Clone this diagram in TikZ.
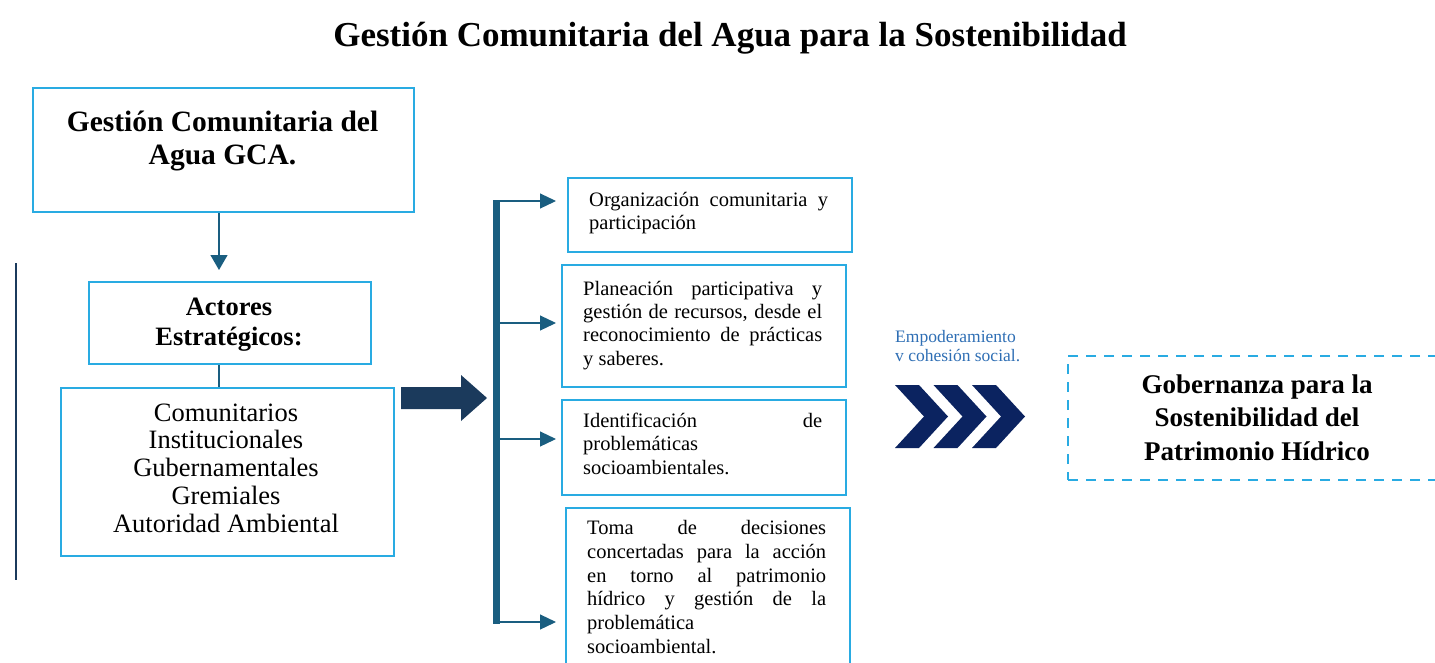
\documentclass[tikz,border=0pt]{standalone}
\usepackage{fontspec}
\setmainfont{Liberation Serif}
\usetikzlibrary{arrows.meta}
\definecolor{lblue}{RGB}{41,171,226}
\definecolor{tealc}{RGB}{26,94,128}
\definecolor{navyc}{RGB}{27,58,92}
\definecolor{chevc}{RGB}{11,35,96}
\definecolor{lbltext}{RGB}{46,110,180}
\newcommand{\jline}[1]{\makebox[239pt][s]{#1}}
\begin{document}
\begin{tikzpicture}[x=1pt,y=-1pt,
  box/.style={draw=lblue,line width=2pt,inner sep=0pt,anchor=north west},
  dbox/.style={draw=lblue,line width=2pt,inner sep=0pt,anchor=north west,dash pattern=on 10pt off 8pt},
  bigtxt/.style={font=\bfseries\fontsize{29.5}{33}\selectfont,align=center,inner sep=0pt},
  midtxt/.style={font=\bfseries\fontsize{26.5}{30}\selectfont,align=center,inner sep=0pt},
  listtxt/.style={font=\fontsize{26.5}{27.8}\selectfont,align=center,inner sep=0pt},
  smalltxt/.style={font=\fontsize{20.5}{23.2}\selectfont,align=left,inner sep=0pt,anchor=north west},
  conn/.style={draw=tealc,line width=1.2pt},
  branch/.style={draw=tealc,line width=1.2pt,-{Triangle[length=16pt,width=15pt]}},
]
\useasboundingbox (0,0) rectangle (1435,662);

% title
\node[font=\bfseries\fontsize{35}{40}\selectfont,inner sep=0pt] (title) at (730,38) {Gestión Comunitaria del Agua para la Sostenibilidad};

% left column
\node[box,minimum width=381pt,minimum height=124pt] (gca) at (32,87) {};
\node[bigtxt] (gcat) at (222.5,141.5) {Gestión Comunitaria del\\Agua GCA.};
\node[box,minimum width=282pt,minimum height=82pt] (act) at (88,281) {};
\node[midtxt] (actt) at (229,325) {Actores\\Estratégicos:};
\node[box,minimum width=333pt,minimum height=168pt] (com) at (60,387) {};
\node[listtxt] (comt) at (226,468) {Comunitarios\\Institucionales\\Gubernamentales\\Gremiales\\Autoridad Ambiental};

\draw[conn,-{Triangle[length=15pt,width=17pt]}] (gca.south -| 219,0) -- (219,270);
\draw[conn] (act.south -| 219,0) -- (com.north -| 219,0);
\draw[draw=navyc,line width=1.2pt] (16,263) coordinate (l1) -- (16,580) coordinate (l2);

% block arrow
\fill[navyc] (401,387) -- (461,387) -- (461,375) -- (487,398) -- (461,421) -- (461,409) -- (401,409) -- cycle;

% bar
\fill[tealc] (493,200) rectangle (500,624);

% right boxes
\node[box,minimum width=284pt,minimum height=74pt] (ba) at (567,177) {};
\node[smalltxt] (bat) at (589,192) {\jline{Organización comunitaria y}\\participación};
\node[box,minimum width=284pt,minimum height=122pt] (bb) at (561,264) {};
\node[smalltxt] (bbt) at (583,281) {\jline{Planeación participativa y}\\\jline{gestión de recursos, desde el}\\\jline{reconocimiento de prácticas}\\y saberes.};
\node[box,minimum width=284pt,minimum height=95pt] (bc) at (561,399) {};
\node[smalltxt] (bct) at (583,413) {\jline{Identificación de}\\problemáticas\\socioambientales.};
\node[box,minimum width=284pt,minimum height=180pt] (bd) at (565,507) {};
\node[smalltxt,font=\fontsize{20.5}{23.8}\selectfont] (bdt) at (587,520) {\jline{Toma de decisiones}\\\jline{concertadas para la acción}\\\jline{en torno al patrimonio}\\\jline{hídrico y gestión de la}\\problemática\\socioambiental.};

\coordinate (c1) at (500,201);
\coordinate (c2) at (500,323);
\coordinate (c3) at (500,439);
\coordinate (c4) at (500,622);
\draw[branch,shorten >=11pt] (c1) -- (c1 -| ba.west);
\draw[branch,shorten >=5pt] (c2) -- (c2 -| bb.west);
\draw[branch,shorten >=5pt] (c3) -- (c3 -| bc.west);
\draw[branch,shorten >=9pt] (c4) -- (c4 -| bd.west);

% label and chevrons
\node[font=\fontsize{17.5}{19.5}\selectfont,text=lbltext,align=left,inner sep=0pt,anchor=north west] (emp) at (895,330) {Empoderamiento\\v cohesión social.};
\foreach \x in {895,933.5,972}{
  \fill[chevc] (\x,385) -- (\x+24,385) -- (\x+53,416.5) -- (\x+24,448) -- (\x,448) -- (\x+29,416.5) -- cycle;
}

% governance box
\node[dbox,minimum width=420pt,minimum height=124pt] (gob) at (1067,355) {};
\node[bigtxt,font=\bfseries\fontsize{27}{33.5}\selectfont] (gobt) at (1257,417.5) {Gobernanza para la\\Sostenibilidad del\\Patrimonio Hídrico};
\end{tikzpicture}
\end{document}
